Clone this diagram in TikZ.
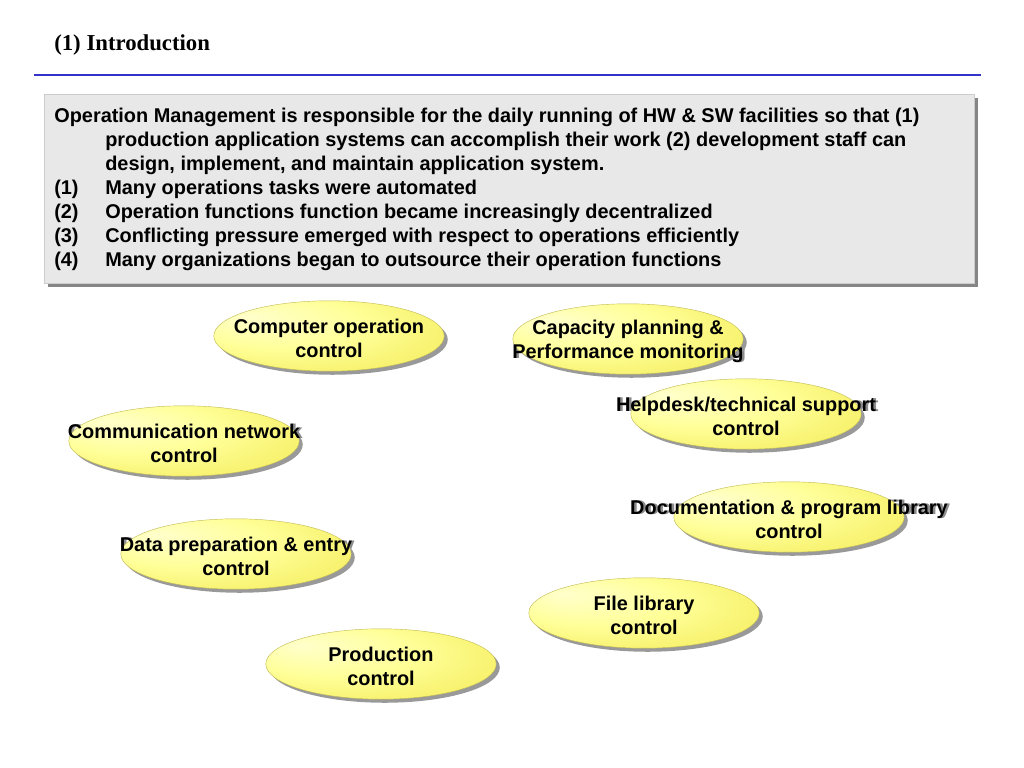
\documentclass[tikz,border=0pt]{standalone}
\usepackage{fontspec}
\setmainfont{Liberation Sans}
\newfontfamily\headfont{Liberation Serif}
\usetikzlibrary{positioning,shapes.geometric,shadows}
\definecolor{rulecolor}{HTML}{3333CC}
\definecolor{boxgray}{HTML}{E8E8E8}
\definecolor{boxshade}{HTML}{858585}
\definecolor{yelcore}{HTML}{FFFFCC}
\definecolor{yelmid}{HTML}{FFFF99}
\definecolor{yeledge}{HTML}{EEE23A}
\pgfdeclareradialshading{opglow}{\pgfpoint{-18bp}{14bp}}{color(0bp)=(yelcore); color(18bp)=(yelmid); color(50bp)=(yeledge)}

\begin{document}
\begin{tikzpicture}[x=0.703125pt, y=-0.703125pt,
    bodyline/.style={anchor=base west, inner sep=0pt, font=\bfseries\fontsize{14}{17}\selectfont},
    opell/.style={ellipse, minimum width=162pt, minimum height=49.5pt, inner sep=0pt, shading=opglow,
      draw=yeledge!60!gray, line width=0.3pt,
      drop shadow={shadow xshift=2.5pt, shadow yshift=-2.5pt, fill=black!40, opacity=1}},
    optext/.style={align=center, inner sep=0pt, font=\bfseries\fontsize{14}{16.9}\selectfont},
    optextshadow/.style={optext, text=black!45}]
    \useasboundingbox (0,0) rectangle (1024,768);
    % heading and rule
    \node[anchor=base west, inner sep=0pt, font=\headfont\bfseries\fontsize{16}{19}\selectfont] (title) at (54,51) {(1) Introduction};
    \draw[rulecolor, line width=2pt] (34,75) -- (981,75);
    % grey box
    \fill[boxshade] (48,98) rectangle (978,287);
    \draw[fill=boxgray, draw=black!20, line width=0.4pt] (44,94) rectangle (974,283);
    \node[bodyline] (intro) at (54,123) {Operation Management is responsible for the daily running of HW \& SW facilities so that (1)};
    \node[bodyline] (introb) at (105,147) {production application systems can accomplish their work (2) development staff can};
    \node[bodyline] (introc) at (105,171) {design, implement, and maintain application system.};
    \foreach \k/\y/\t in {
      1/195/{Many operations tasks were automated},
      2/219/{Operation functions function became increasingly decentralized},
      3/243/{Conflicting pressure emerged with respect to operations efficiently},
      4/267/{Many organizations began to outsource their operation functions}}
    {
      \node[bodyline] (num\k) at (54,\y) {(\k)};
      \node[bodyline] (item\k) at (105,\y) {\t};
    }
    % control areas
    \foreach \n/\x/\y/\t in {
      cop/329/336/{Computer operation\\control},
      cap/628/339/{Capacity planning \&\\Performance monitoring},
      help/746/414/{Helpdesk/technical support\\control},
      comm/184/441/{Communication network\\control},
      doc/789/517/{Documentation \& program library\\control},
      data/236/554/{Data preparation \& entry\\control},
      file/644/613/{File library\\control},
      prod/381/664/{Production\\control}}
    {
      \node[optextshadow] at (\x+2.5,\y+2.5) {\t};
      \node[opell] (\n) at (\x,\y) {};
      \node[optext] (\n text) at ([yshift=-1.5pt]\n.center) {\t};
    }
\end{tikzpicture}
\end{document}
